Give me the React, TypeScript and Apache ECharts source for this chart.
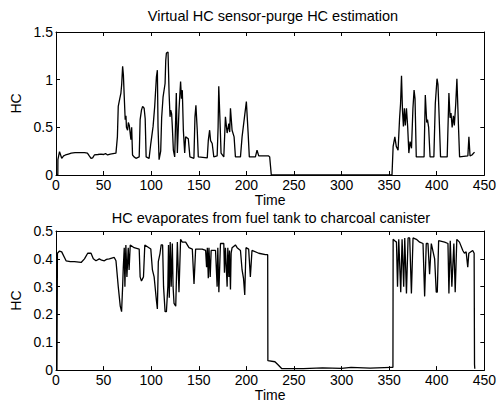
import React, { useEffect, useRef } from "react";
import * as echarts from "echarts";

const xTicks = [0, 50, 100, 150, 200, 250, 300, 350, 400, 450];
const topYTicks = [0, 0.5, 1, 1.5];
const botYTicks = [0, 0.1, 0.2, 0.3, 0.4, 0.5];

const topTitle = "Virtual HC sensor-purge HC estimation";
const botTitle = "HC evaporates from fuel tank to charcoal canister";
const xName = "Time";
const yName = "HC";

// Virtual HC sensor estimate: [time, HC]
const purgeHC: [number, number][] = [
  [0, 0], [1.9, 0], [2, 0.16], [3.7, 0.245], [6, 0.175], [8, 0.2], [10, 0.21], [13, 0.22], [16, 0.23],
  [20, 0.235], [25, 0.235], [30, 0.235], [33, 0.23], [35, 0.2], [36.8, 0.175], [38.5, 0.18], [40.3, 0.21],
  [44, 0.215], [47.3, 0.22], [50, 0.215], [52, 0.225], [54.2, 0.21], [57, 0.22], [60, 0.225], [63, 0.23],
  [64.5, 0.4], [65.4, 0.72], [67, 0.8], [68.2, 0.86], [69, 0.95], [70, 1.14], [70.8, 1.05], [71.7, 0.82],
  [72.7, 0.58], [73.5, 0.62], [74, 0.5], [75.2, 0.47], [76, 0.55], [77, 0.52], [77.8, 0.45], [78.7, 0.37],
  [79.5, 0.5], [80.4, 0.21], [82, 0.19], [84, 0.175], [87.4, 0.19], [88.4, 0.58], [89.8, 0.68], [91, 0.72],
  [92.6, 0.7], [93.7, 0.59], [94.7, 0.19], [97.8, 0.175], [99.6, 0.33], [102, 0.51], [103.7, 0.72],
  [105.5, 1.03], [106.5, 1.1], [107.2, 0.5], [108.3, 0.16], [110, 0.25], [111, 0.6], [112.5, 0.82],
  [114.6, 0.96], [115.3, 1.2], [116, 1.28], [117.7, 1.29], [118.8, 0.86], [119.8, 0.61], [120.5, 0.68],
  [121.5, 0.64], [122.2, 0.51], [123.3, 0.26], [124.7, 0.19], [125.5, 0.5], [126.4, 0.86], [127.5, 0.23],
  [129.2, 0.68], [130.9, 0.98], [131.8, 0.8], [132.7, 0.89], [133.8, 0.47], [135.2, 0.23], [136.2, 0.4],
  [139, 0.38], [140.7, 0.19], [144.9, 0.175], [146, 0.61], [147, 0.73], [148.4, 0.47], [149.5, 0.19],
  [158.9, 0.18], [160, 0.36], [161.4, 0.47], [162.4, 0.36], [164.1, 0.33], [165.8, 0.19], [169.3, 0.2],
  [170.3, 0.5], [171, 0.93], [172.4, 0.54], [173.4, 0.23], [176.3, 0.19], [178, 0.61], [179.8, 0.44],
  [181.6, 0.54], [182.5, 0.45], [183.3, 0.7], [185, 0.47], [187.1, 0.4], [188.5, 0.19], [193.8, 0.19],
  [195.5, 0.4], [198.3, 0.63], [200, 0.77], [201.8, 0.45], [203.1, 0.19], [209.5, 0.19], [211.2, 0.26],
  [213, 0.2], [223.4, 0.2], [224.5, 0.19], [226.2, 0], [353, 0], [354.2, 0.3], [356, 0.4], [357.5, 0.3],
  [359.4, 0.26], [361, 0.6], [362, 0.75], [363, 1.04], [364, 0.68], [365, 0.51], [366, 0.7], [367, 0.52],
  [368.2, 0.7], [369.5, 0.5], [370.7, 0.23], [372, 0.35], [373.5, 0.28], [375, 0.7], [376.2, 0.89],
  [377.2, 0.8], [378.5, 0.19], [386.7, 0.19], [388, 0.84], [389.5, 0.55], [390.3, 0.58], [391.5, 0.5],
  [393, 0.19], [397, 0.19], [398.5, 0.75], [400.3, 1.01], [401.3, 0.95], [402.4, 0.65], [404, 0.19],
  [411, 0.19], [412.8, 0.86], [414, 0.6], [415, 0.65], [416.2, 0.5], [417.5, 0.62], [418.5, 0.52],
  [420, 0.75], [421.2, 1.01], [423, 0.47], [424, 0.19], [432.7, 0.2], [433.8, 0.4], [435, 0.2],
  [437, 0.21], [439.7, 0.24],
];

// HC evaporating from fuel tank to charcoal canister: [time, HC]
const tankHC: [number, number][] = [
  [0, 0], [1, 0], [1.5, 0.42], [3.7, 0.428], [6, 0.425], [8.9, 0.405], [10.6, 0.393], [15, 0.39],
  [19.4, 0.39], [26.4, 0.387], [29.9, 0.4], [33.3, 0.42], [36.8, 0.42], [39.2, 0.4], [42, 0.393],
  [45.5, 0.4], [48, 0.395], [50.8, 0.393], [53, 0.398], [56, 0.4], [61.2, 0.405], [63, 0.393],
  [65.4, 0.3], [67.5, 0.23], [68.9, 0.21], [70, 0.3], [70.7, 0.37], [71.7, 0.44], [72.4, 0.3],
  [73.4, 0.45], [74.5, 0.335], [75.9, 0.44], [76.8, 0.36], [78, 0.45], [82.1, 0.44], [87.4, 0.435],
  [88.4, 0.335], [89.8, 0.32], [91.9, 0.335], [93.3, 0.45], [99.6, 0.435], [101.3, 0.36], [103.1, 0.335],
  [105.5, 0.25], [106.5, 0.22], [107.5, 0.39], [109.3, 0.42], [110.5, 0.45], [112, 0.45], [113, 0.3],
  [114.6, 0.21], [116, 0.21], [117.5, 0.3], [118.2, 0.45], [119, 0.26], [120, 0.46], [121, 0.3],
  [122.2, 0.455], [123, 0.3], [124, 0.24], [125.8, 0.23], [127.5, 0.46], [129.2, 0.28], [130.9, 0.47],
  [132.7, 0.46], [136.2, 0.46], [139.7, 0.44], [143.2, 0.435], [145, 0.31], [146.7, 0.435],
  [153.6, 0.435], [157.2, 0.43], [158.2, 0.37], [159, 0.44], [160, 0.33], [160.7, 0.44], [162, 0.335],
  [163, 0.43], [164.1, 0.43], [167.6, 0.43], [169.3, 0.3], [170, 0.44], [171.1, 0.28], [172.8, 0.455],
  [176.3, 0.455], [177, 0.35], [178, 0.44], [179.8, 0.3], [180.5, 0.44], [181.6, 0.335], [182.3, 0.43],
  [183.3, 0.29], [184, 0.42], [185, 0.44], [188.5, 0.45], [190.3, 0.44], [193.8, 0.43], [195.5, 0.36],
  [197, 0.33], [198.3, 0.27], [199.6, 0.44], [202.4, 0.435], [204.2, 0.335], [205.9, 0.43], [213, 0.42],
  [220, 0.415], [222.4, 0.415], [222.6, 0.034], [230, 0.03], [233, 0.02], [237.3, 0.005], [260, 0.005],
  [280, 0.008], [300, 0.006], [310, 0.01], [330, 0.007], [352, 0.01], [354, 0.01], [354.2, 0.47],
  [355.9, 0.465], [357.7, 0.46], [358.8, 0.3], [360.1, 0.47], [362.2, 0.28], [363.6, 0.47], [365.3, 0.3],
  [366.4, 0.475], [368.2, 0.275], [369.9, 0.475], [371.6, 0.475], [373.4, 0.275], [375.1, 0.475],
  [378.6, 0.47], [382.1, 0.46], [385.6, 0.455], [387.3, 0.265], [389, 0.455], [390.8, 0.455],
  [392.5, 0.345], [394.3, 0.455], [397.8, 0.4], [399.5, 0.28], [400.6, 0.28], [402, 0.465], [408.3, 0.46],
  [411.8, 0.455], [412.8, 0.275], [414.2, 0.465], [415.9, 0.3], [418, 0.455], [419.4, 0.28],
  [421.1, 0.47], [423.9, 0.46], [427.4, 0.43], [429.1, 0.42], [430.9, 0.425], [432.6, 0.37],
  [433.7, 0.42], [437.8, 0.43], [439.3, 0.42], [439.7, 0.02], [440, 0.005],
];

const FONT = "'Liberation Sans', Arial, Helvetica, sans-serif";
const GRID_LEFT = 56;
const GRID_W = 430;
const TICK_FS = 14;
const TITLE_FS = 14.5;

function xAxis(gridIndex: number, position: "top" | "bottom", labels: boolean, nameGap = 16) {
  return {
    type: "value",
    gridIndex,
    position,
    min: xTicks[0],
    max: xTicks[xTicks.length - 1],
    interval: xTicks[1] - xTicks[0],
    name: labels ? xName : "",
    nameLocation: "middle",
    nameGap,
    nameTextStyle: { color: "#000", fontSize: TICK_FS, fontFamily: FONT, verticalAlign: "top" },
    axisLine: { show: true, onZero: false, lineStyle: { color: "#000", width: 1 } },
    axisTick: { show: true, inside: true, length: 4, lineStyle: { color: "#000", width: 1 } },
    axisLabel: { show: labels, color: "#000", fontSize: TICK_FS, fontFamily: FONT, margin: 3 },
    splitLine: { show: false },
  };
}

function yAxis(gridIndex: number, position: "left" | "right", ticks: number[], labels: boolean) {
  return {
    type: "value",
    gridIndex,
    position,
    min: ticks[0],
    max: ticks[ticks.length - 1],
    interval: ticks[1] - ticks[0],
    name: labels ? yName : "",
    nameLocation: "middle",
    nameGap: 25,
    nameRotate: 90,
    nameTextStyle: { color: "#000", fontSize: TICK_FS, fontFamily: FONT },
    axisLine: { show: true, onZero: false, lineStyle: { color: "#000", width: 1 } },
    axisTick: { show: true, inside: true, length: 4, lineStyle: { color: "#000", width: 1 } },
    axisLabel: {
      show: labels,
      color: "#000",
      fontSize: TICK_FS,
      fontFamily: FONT,
      margin: 3,
      formatter: (v: number) => String(Math.round(v * 10) / 10),
    },
    splitLine: { show: false },
  };
}

export default function App() {
  const ref = useRef<HTMLDivElement>(null);
  useEffect(() => {
    document.body.style.margin = "0";
    const chart = echarts.init(ref.current!, null, { renderer: "svg" });
    chart.setOption({
      animation: false,
      backgroundColor: "#fff",
      grid: [
        { left: GRID_LEFT, top: 32, width: GRID_W, height: 143 },
        { left: GRID_LEFT, top: 231, width: GRID_W, height: 142 },
      ],
      xAxis: [
        xAxis(0, "bottom", true, 16),
        xAxis(0, "top", false),
        xAxis(1, "bottom", true, 17),
        xAxis(1, "top", false),
      ],
      yAxis: [
        yAxis(0, "left", topYTicks, true),
        yAxis(0, "right", topYTicks, false),
        yAxis(1, "left", botYTicks, true),
        yAxis(1, "right", botYTicks, false),
      ],
      graphic: [
        {
          type: "text",
          x: GRID_LEFT + GRID_W / 2 + 2,
          y: 16,
          style: { text: topTitle, fill: "#000", font: `${TITLE_FS}px ${FONT}`, align: "center", verticalAlign: "middle" },
        },
        {
          type: "text",
          x: GRID_LEFT + GRID_W / 2,
          y: 218,
          style: { text: botTitle, fill: "#000", font: `${TITLE_FS}px ${FONT}`, align: "center", verticalAlign: "middle" },
        },
      ],
      series: [
        {
          type: "line",
          xAxisIndex: 0,
          yAxisIndex: 0,
          data: purgeHC,
          showSymbol: false,
          lineStyle: { color: "#000", width: 1.3 },
        },
        {
          type: "line",
          xAxisIndex: 2,
          yAxisIndex: 2,
          data: tankHC,
          showSymbol: false,
          lineStyle: { color: "#000", width: 1.3 },
        },
      ],
    });
    return () => chart.dispose();
  }, []);
  return <div ref={ref} style={{ position: "absolute", left: 0, top: 0, width: 499, height: 403 }} />;
}
